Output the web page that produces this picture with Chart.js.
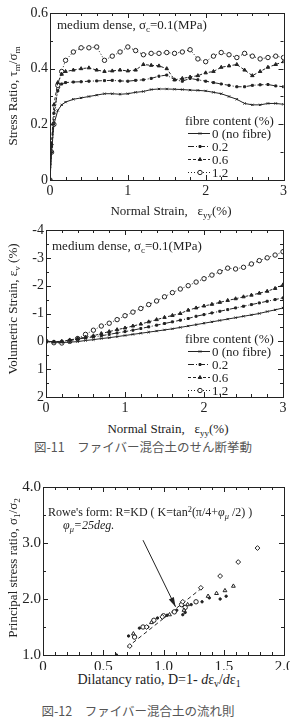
<!DOCTYPE html>
<html lang="ja">
<head>
<meta charset="UTF-8">
<title>ファイバー混合土のせん断挙動</title>
<script src="https://cdn.jsdelivr.net/npm/chart.js"></script>
<style>
  html, body { margin:0; padding:0; background:#fff; }
  body { width:290px; height:718px; overflow:hidden; position:relative; font-family:"Liberation Serif", "DejaVu Serif", serif; color:#222; }
  canvas { position:absolute; left:0; }
  .t { position:absolute; white-space:nowrap; line-height:1; font-size:13px; transform:translateY(-50%); }
  .c { transform:translate(-50%, -50%); }
  .v { transform:translate(-50%, -50%) rotate(-90deg); }
  .cap { font-family:"Noto Sans CJK JP", sans-serif; color:#555; font-size:12.5px; }
  sub, sup { font-size:0.7em; line-height:0; position:relative; vertical-align:baseline; }
  sub { top:0.3em; }
  sup { top:-0.45em; }
</style>
</head>
<body>

<canvas id="grafico1" width="290" height="200" style="top:0;width:290px;height:200px"></canvas>
<canvas id="grafico2" width="290" height="200" style="top:215px;width:290px;height:200px"></canvas>
<canvas id="grafico3" width="300" height="200" style="top:470px;width:300px;height:200px"></canvas>

<!-- chart 1 texts -->
<div class="t v" style="left:12px;top:96px">Stress Ratio, τ<sub>m</sub>/σ<sub>m</sub></div>
<div class="t c" style="left:171px;top:210px">Normal Strain,&nbsp;&nbsp; ε<sub>yy</sub>(%)</div>
<div class="t" style="left:57px;top:24px">medium dense, σ<sub>c</sub>=0.1(MPa)</div>
<div class="t" style="left:185px;top:120px">fibre content (%)</div>
<div class="t" style="left:212px;top:133px">0 (no fibre)</div>
<div class="t" style="left:212px;top:146px">0.2</div>
<div class="t" style="left:212px;top:159px">0.6</div>
<div class="t" style="left:212px;top:172px">1.2</div>

<!-- chart 2 texts -->
<div class="t v" style="left:12px;top:309px">Volumetric Strain, ε<sub>v</sub> (%)</div>
<div class="t c" style="left:168px;top:428px">Normal Strain,&nbsp;&nbsp; ε<sub>yy</sub>(%)</div>
<div class="t" style="left:52px;top:245px">medium dense, σ<sub>c</sub>=0.1(MPa)</div>
<div class="t" style="left:185px;top:338px">fibre content (%)</div>
<div class="t" style="left:212px;top:351px">0 (no fibre)</div>
<div class="t" style="left:212px;top:364px">0.2</div>
<div class="t" style="left:212px;top:377px">0.6</div>
<div class="t" style="left:212px;top:390px">1.2</div>
<div class="t c cap" style="left:143px;top:447px">図-11　ファイバー混合土のせん断挙動</div>

<!-- chart 3 texts -->
<div class="t v" style="left:12px;top:568px">Principal stress ratio, σ<sub>1</sub>/σ<sub>2</sub></div>
<div class="t c" style="left:159px;top:680px;font-size:14px">Dilatancy ratio, D=1- <i>d</i>ε<sub>v</sub>/<i>d</i>ε<sub>1</sub></div>
<div class="t" style="left:48px;top:512px;font-size:12px">Rowe's form: R=KD ( K=tan<sup>2</sup>(π/4+<i>φ<sub>μ</sub></i> /2) )</div>
<div class="t" style="left:63px;top:525px;font-size:12px"><i>φ<sub>μ</sub>=25deg.</i></div>
<div class="t c cap" style="left:138px;top:711px">図-12　ファイバー混合土の流れ則</div>

<script>
// ---- chart 1: stress ratio vs normal strain ----
var strain1 = [0, 0.02, 0.05, 0.1, 0.15, 0.2, 0.3, 0.4, 0.5, 0.6, 0.7, 0.8, 0.9, 1.0, 1.1, 1.2, 1.3, 1.4, 1.5, 1.6, 1.7, 1.8, 1.9, 2.0, 2.1, 2.2, 2.3, 2.4, 2.5, 2.6, 2.7, 2.8, 2.9, 3.0];
var ratio0  = [0, 0.1, 0.2, 0.25, 0.27, 0.28, 0.29, 0.295, 0.3, 0.305, 0.31, 0.31, 0.308, 0.31, 0.315, 0.318, 0.325, 0.327, 0.327, 0.326, 0.325, 0.323, 0.322, 0.32, 0.315, 0.31, 0.3, 0.29, 0.275, 0.27, 0.27, 0.275, 0.275, 0.272];
var ratio02 = [0, 0.12, 0.24, 0.32, 0.345, 0.35, 0.352, 0.353, 0.355, 0.356, 0.357, 0.358, 0.356, 0.355, 0.358, 0.36, 0.365, 0.373, 0.377, 0.36, 0.355, 0.365, 0.36, 0.355, 0.35, 0.345, 0.34, 0.335, 0.335, 0.34, 0.342, 0.343, 0.338, 0.335];
var ratio06 = [0, 0.13, 0.27, 0.35, 0.38, 0.39, 0.395, 0.4, 0.403, 0.395, 0.39, 0.392, 0.395, 0.392, 0.395, 0.415, 0.412, 0.41, 0.4, 0.36, 0.365, 0.37, 0.375, 0.385, 0.39, 0.405, 0.41, 0.415, 0.395, 0.375, 0.39, 0.405, 0.415, 0.425];
var ratio12 = [0, 0.1, 0.2, 0.34, 0.39, 0.43, 0.46, 0.475, 0.475, 0.478, 0.43, 0.445, 0.46, 0.478, 0.465, 0.45, 0.455, 0.455, 0.458, 0.455, 0.46, 0.468, 0.435, 0.425, 0.445, 0.458, 0.45, 0.44, 0.455, 0.445, 0.435, 0.44, 0.445, 0.44];

// ---- chart 2: volumetric strain vs normal strain ----
var strain2 = [0, 0.1, 0.2, 0.3, 0.4, 0.5, 0.6, 0.7, 0.8, 0.9, 1.0, 1.1, 1.2, 1.3, 1.4, 1.5, 1.6, 1.7, 1.8, 1.9, 2.0, 2.1, 2.2, 2.3, 2.4, 2.5, 2.6, 2.7, 2.8, 2.9, 3.0];
var vol0  = [0, 0.03, 0.04, 0.03, 0.01, -0.03, -0.06, -0.1, -0.13, -0.17, -0.21, -0.25, -0.29, -0.33, -0.37, -0.41, -0.45, -0.5, -0.55, -0.6, -0.65, -0.7, -0.75, -0.8, -0.85, -0.9, -0.95, -1.0, -1.07, -1.13, -1.2];
var vol02 = [0, 0.01, 0, -0.04, -0.08, -0.12, -0.16, -0.2, -0.25, -0.3, -0.35, -0.4, -0.46, -0.52, -0.58, -0.64, -0.7, -0.76, -0.82, -0.9, -0.96, -1.02, -1.08, -1.14, -1.2, -1.26, -1.32, -1.38, -1.44, -1.5, -1.56];
var vol06 = [0, 0.02, 0, -0.05, -0.1, -0.15, -0.2, -0.28, -0.35, -0.42, -0.48, -0.55, -0.62, -0.7, -0.78, -0.86, -0.93, -1.0, -1.12, -1.2, -1.27, -1.33, -1.4, -1.47, -1.53, -1.6, -1.66, -1.73, -1.8, -1.9, -2.03];
var vol12 = [0, 0.05, 0.06, 0, -0.1, -0.25, -0.4, -0.55, -0.65, -0.78, -0.92, -1.05, -1.18, -1.32, -1.45, -1.6, -1.75, -1.88, -2.0, -2.13, -2.25, -2.38, -2.5, -2.63, -2.6, -2.66, -2.78, -2.9, -3.0, -3.1, -3.22];

// ---- chart 3: principal stress ratio vs dilatancy ratio ----
var dilDiamond = [1.78, 1.62, 1.47, 1.31, 1.16, 0.99, 0.86, 0.72];
var psrDiamond = [2.91, 2.66, 2.41, 2.2, 1.95, 1.68, 1.5, 1.16];
var dilTri = [1.58, 1.51, 1.44, 1.37, 1.2, 1.17, 1.05, 0.9, 0.75];
var psrTri = [2.23, 2.15, 2.1, 2.05, 1.9, 1.8, 1.72, 1.58, 1.38];
var dilCirc = [1.27, 1.18, 1.15, 1.09, 1.0, 0.92, 0.83, 0.76];
var psrCirc = [1.95, 1.85, 1.9, 1.77, 1.7, 1.62, 1.5, 1.32];
var dilDot = [1.52, 1.47, 1.38, 1.32, 1.23, 1.18, 1.16, 1.11, 1.03, 0.95, 0.87, 0.8, 0.71, 0.61];
var psrDot = [2.05, 2.0, 2.02, 1.95, 1.9, 1.76, 1.72, 1.8, 1.71, 1.66, 1.5, 1.48, 1.34, 1.0];
var roweD = [0.7, 1.32];
var roweR = [1.14, 2.2];
var arrowD = [0.83, 1.10];
var arrowR = [3.05, 1.86];

var tinta = '#222';
var serif = "'Liberation Serif', 'DejaVu Serif', serif";

function pontos(xs, ys) {
    return xs.map(function (x, i) { return { x: x, y: ys[i] }; });
}

// frame box + inward ticks on all four sides, legend samples, arrow head
var moldura = {
    id: 'moldura',
    afterDraw: function (chart, args, o) {
        var ctx = chart.ctx, a = chart.chartArea, sx = chart.scales.x, sy = chart.scales.y;
        ctx.save();
        ctx.strokeStyle = tinta;
        ctx.lineWidth = 1;
        ctx.setLineDash([]);
        ctx.strokeRect(Math.round(a.left) + 0.5, Math.round(a.top) + 0.5, Math.round(a.right - a.left), Math.round(a.bottom - a.top));

        function marcas(escala, passo, maior, horizontal) {
            var n = Math.round((escala.max - escala.min) / passo);
            for (var i = 0; i <= n; i++) {
                var v = escala.min + i * passo;
                var k = v / maior;
                var len = Math.abs(k - Math.round(k)) < 1e-6 ? 5 : 3;
                var p = Math.round(escala.getPixelForValue(v)) + 0.5;
                ctx.beginPath();
                if (horizontal) {
                    ctx.moveTo(p, a.bottom); ctx.lineTo(p, a.bottom - len);
                    ctx.moveTo(p, a.top); ctx.lineTo(p, a.top + len);
                } else {
                    ctx.moveTo(a.left, p); ctx.lineTo(a.left + len, p);
                    ctx.moveTo(a.right, p); ctx.lineTo(a.right - len, p);
                }
                ctx.stroke();
            }
        }
        marcas(sx, o.xMenor, o.xMaior, true);
        marcas(sy, o.yMenor, o.yMaior, false);

        // legend samples
        if (o.legenda) {
            var L = o.legenda;
            chart.data.datasets.forEach(function (ds, i) {
                var y = L.y + i * L.dy + 0.5;
                ctx.strokeStyle = tinta;
                ctx.setLineDash(ds.borderDash || []);
                ctx.beginPath();
                ctx.moveTo(L.x, y); ctx.lineTo(L.x + L.len, y);
                ctx.stroke();
                ctx.setLineDash([]);
                ctx.fillStyle = ds.pointBackgroundColor;
                Chart.helpers.drawPoint(ctx, {
                    pointStyle: ds.pointStyle, radius: ds.pointRadius, rotation: 0, borderWidth: 1
                }, L.x + L.len / 2 + 1, y);
            });
        }

        // arrow head
        if (o.seta) {
            var x1 = sx.getPixelForValue(arrowD[0]), y1 = sy.getPixelForValue(arrowR[0]);
            var x2 = sx.getPixelForValue(arrowD[1]), y2 = sy.getPixelForValue(arrowR[1]);
            var ang = Math.atan2(y2 - y1, x2 - x1);
            ctx.fillStyle = tinta;
            ctx.beginPath();
            ctx.moveTo(x2, y2);
            ctx.lineTo(x2 - 10 * Math.cos(ang - 0.28), y2 - 10 * Math.sin(ang - 0.28));
            ctx.lineTo(x2 - 10 * Math.cos(ang + 0.28), y2 - 10 * Math.sin(ang + 0.28));
            ctx.closePath();
            ctx.fill();
        }
        ctx.restore();
    }
};

function serie(label, dados, dash, estilo, raio, fundo) {
    return {
        label: label,
        data: dados,
        borderColor: tinta,
        borderWidth: 1,
        borderDash: dash,
        pointStyle: estilo,
        pointRadius: raio,
        pointBorderWidth: 1,
        pointBorderColor: tinta,
        pointBackgroundColor: fundo,
        tension: 0,
        showLine: true
    };
}

function eixos(xMin, xMax, xPasso, xAltura, yMin, yMax, yPasso, yLargura, reverso, fmtX, fmtY, tamanho) {
    var fonte = { family: serif, size: tamanho };
    return {
        x: {
            type: 'linear', min: xMin, max: xMax,
            grid: { display: false, drawTicks: false },
            border: { display: true, color: tinta, width: 1 },
            ticks: { stepSize: xPasso, padding: 3, color: tinta, font: fonte, maxRotation: 0, callback: fmtX },
            afterFit: function (s) { s.height = xAltura; }
        },
        y: {
            type: 'linear', min: yMin, max: yMax, reverse: reverso,
            grid: { display: false, drawTicks: false },
            border: { display: true, color: tinta, width: 1 },
            ticks: { stepSize: yPasso, padding: 2, color: tinta, font: fonte, callback: fmtY },
            afterFit: function (s) { s.width = yLargura; }
        }
    };
}

function simples(v) { return String(+v.toFixed(2)); }
function umaCasa(v) { return Math.abs(v) < 1e-9 ? '0' : v.toFixed(1); }

new Chart(document.getElementById('grafico1'), {
    type: 'line',
    data: {
        datasets: [
            serie('0 (no fibre)', pontos(strain1, ratio0), [], 'crossRot', 1.6, tinta),
            serie('0.2', pontos(strain1, ratio02), [6, 2, 1, 2], 'rect', 1.4, tinta),
            serie('0.6', pontos(strain1, ratio06), [3, 2], 'triangle', 2, tinta),
            serie('1.2', pontos(strain1, ratio12), [1, 2], 'circle', 2.2, '#fff')
        ]
    },
    options: {
        responsive: false,
        animation: false,
        layout: { padding: { top: 13, right: 5, left: 0, bottom: 0 } },
        scales: eixos(0, 3, 1, 20, 0, 0.6, 0.2, 50, false, simples, simples, 14),
        plugins: {
            legend: { display: false },
            tooltip: { enabled: false },
            moldura: { xMenor: 0.2, xMaior: 1, yMenor: 0.1, yMaior: 0.2, legenda: { x: 188, y: 133, dy: 13, len: 22 } }
        }
    },
    plugins: [moldura]
});

new Chart(document.getElementById('grafico2'), {
    type: 'line',
    data: {
        datasets: [
            serie('0 (no fibre)', pontos(strain2, vol0), [], 'crossRot', 1.6, tinta),
            serie('0.2', pontos(strain2, vol02), [6, 2, 1, 2], 'rect', 1.4, tinta),
            serie('0.6', pontos(strain2, vol06), [3, 2], 'triangle', 2, tinta),
            serie('1.2', pontos(strain2, vol12), [1, 2], 'circle', 2.2, '#fff')
        ]
    },
    options: {
        responsive: false,
        animation: false,
        layout: { padding: { top: 15, right: 7, left: 0, bottom: 0 } },
        scales: eixos(0, 3, 1, 18, -4, 2, 1, 46, true, simples, simples, 14),
        plugins: {
            legend: { display: false },
            tooltip: { enabled: false },
            moldura: { xMenor: 0.2, xMaior: 1, yMenor: 0.5, yMaior: 1, legenda: { x: 188, y: 136, dy: 13, len: 22 } }
        }
    },
    plugins: [moldura]
});

new Chart(document.getElementById('grafico3'), {
    type: 'scatter',
    data: {
        datasets: [
            { data: pontos(dilDiamond, psrDiamond), pointStyle: 'rectRot', pointRadius: 2.4, pointBorderWidth: 1, borderColor: tinta, pointBackgroundColor: '#fff', showLine: false },
            { data: pontos(dilTri, psrTri), pointStyle: 'triangle', pointRadius: 2.2, pointBorderWidth: 1, borderColor: tinta, pointBackgroundColor: '#fff', showLine: false },
            { data: pontos(dilCirc, psrCirc), pointStyle: 'circle', pointRadius: 2.2, pointBorderWidth: 1, borderColor: tinta, pointBackgroundColor: '#fff', showLine: false },
            { data: pontos(dilDot, psrDot), pointStyle: 'circle', pointRadius: 1.2, pointBorderWidth: 1, borderColor: tinta, pointBackgroundColor: tinta, showLine: false },
            { data: pontos(roweD, roweR), showLine: true, borderDash: [4, 3], borderWidth: 1, borderColor: tinta, pointRadius: 0 },
            { data: pontos(arrowD, arrowR), showLine: true, borderWidth: 1, borderColor: tinta, pointRadius: 0 }
        ]
    },
    options: {
        responsive: false,
        animation: false,
        layout: { padding: { top: 17, right: 16, left: 0, bottom: 0 } },
        scales: eixos(0, 2, 0.5, 15, 1, 4, 1, 43, false, umaCasa, umaCasa, 15),
        plugins: {
            legend: { display: false },
            tooltip: { enabled: false },
            moldura: { xMenor: 0.1, xMaior: 0.5, yMenor: 0.5, yMaior: 1, seta: true }
        }
    },
    plugins: [moldura]
});
</script>
</body>
</html>
